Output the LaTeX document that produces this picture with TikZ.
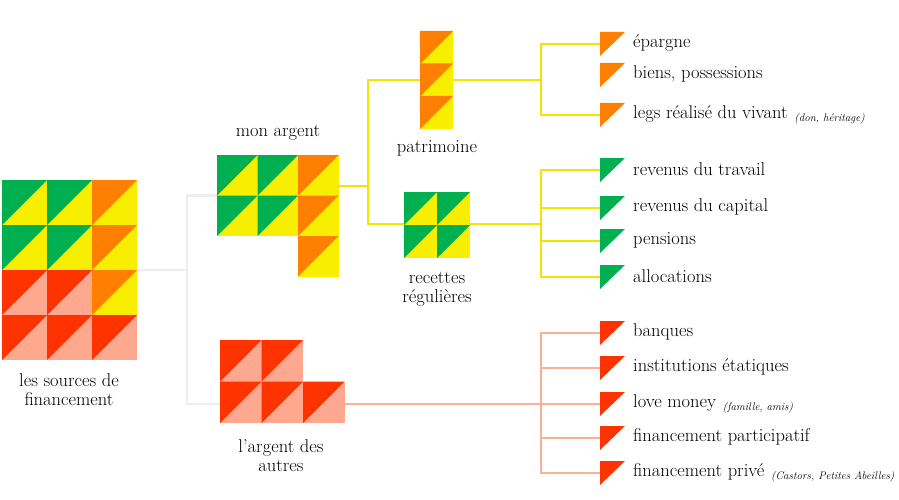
\documentclass[tikz,border=0pt]{standalone}
\usepackage{fontspec}
\usetikzlibrary{positioning}
\definecolor{vert}{HTML}{00B050}
\definecolor{jaune}{HTML}{F7EE00}
\definecolor{orange}{HTML}{FF7F00}
\definecolor{rouge}{HTML}{FF3300}
\definecolor{saumon}{HTML}{FFA890}
\definecolor{gris}{HTML}{EEEEEE}
\definecolor{trjaune}{HTML}{F5E400}
\definecolor{trsaumon}{HTML}{FFAE96}
% one square: dark upper-left half, light lower-right half
\newcommand{\carre}[5]{%
  \fill[#5] (#1,#2) rectangle ++(#3,#3);
  \fill[#4] (#1,#2) -- ++(#3,0) -- ++(-#3,#3) -- cycle;}
\tikzset{
  bloc/.style={inner sep=0pt, draw=none},
  txt/.style={align=center, font=\fontsize{18.5}{19}\selectfont},
  item/.style={anchor=west, font=\fontsize{18.5}{19}\selectfont, inner sep=0pt},
  rem/.style={font=\fontsize{11}{12}\selectfont\itshape},
  trait/.style={line width=2.5pt},
}
\begin{document}
\begin{tikzpicture}[x=1pt,y=-1pt]
			\useasboundingbox (0,0) rectangle (899,500);

			% les sources de financement
			\foreach \i in {0,1} \foreach \j in {0,1} {\carre{2+45*\i}{180+45*\j}{45}{vert}{jaune}}
			\foreach \j in {0,1,2} {\carre{92}{180+45*\j}{45}{orange}{jaune}}
			\foreach \i in {0,1} \foreach \j in {2,3} {\carre{2+45*\i}{180+45*\j}{45}{rouge}{saumon}}
			\carre{92}{315}{45}{rouge}{saumon}
			\node[bloc, minimum width=135pt, minimum height=180pt] (src) at (69.5,270) {};
			\node[txt] (srclab) at (69,390) {les sources de\\financement};

			% mon argent
			\foreach \i in {0,1} \foreach \j in {0,1} {\carre{217+40.5*\i}{155+40.5*\j}{40.5}{vert}{jaune}}
			\foreach \j in {0,1,2} {\carre{298}{155+40.5*\j}{40.5}{orange}{jaune}}
			\node[bloc, minimum width=121pt, minimum height=81pt] (mon) at (277.5,195.5) {};
			\node[txt] (monlab) at (278,133) {mon argent};

			% l'argent des autres
			\foreach \i in {0,1} {\carre{220+41.5*\i}{340}{41.5}{rouge}{saumon}}
			\foreach \i in {0,1,2} {\carre{220+41.5*\i}{381.5}{41.5}{rouge}{saumon}}
			\node[bloc, minimum width=124.5pt, minimum height=41pt] (aut) at (282.25,404) {};
			\node[txt] (autlab) at (281,456) {l'argent des\\autres};

			% patrimoine
			\foreach \j in {0,1,2} {\carre{420}{31+32.5*\j}{33}{orange}{jaune}}
			\node[bloc, minimum width=33pt, minimum height=98pt] (pat) at (436.5,80) {};
			\node[txt] (patlab) at (437,148) {patrimoine};

			% recettes regulieres
			\foreach \i in {0,1} \foreach \j in {0,1} {\carre{404+33*\i}{192+33*\j}{33}{vert}{jaune}}
			\node[bloc, minimum width=66pt, minimum height=64pt] (rec) at (437,224) {};
			\node[txt] (reclab) at (437,289) {recettes\\régulières};

			% connecteurs
			\coordinate (g) at (187,270);
			\draw[trait, gris] (src.east) -- (g) |- (mon.west);
			\draw[trait, gris] (g) |- (aut.west);
			\coordinate (y) at (368,186);
			\draw[trait, trjaune] (mon.east |- y) -- (y) |- (pat.west);
			\draw[trait, trjaune] (y) |- (rec.west);

			% feuilles
			\foreach \n/\yy/\t/\c in {
				e1/44/épargne/orange, e2/75/{biens, possessions}/orange, e3/115/{legs réalisé du vivant}/orange,
				r1/170/revenus du travail/vert, r2/208/revenus du capital/vert, r3/241/pensions/vert, r4/277/allocations/vert,
				a1/333/banques/rouge, a2/368/institutions étatiques/rouge, a3/404/love money/rouge,
				a4/438/financement participatif/rouge, a5/473/financement privé/rouge} {
				\fill[\c] (600,\yy-12) -- (625,\yy-12) -- (600,\yy+12) -- cycle;
				\coordinate (\n) at (600,\yy);
				\node[item] (\n t) at (633,\yy-1) {\t};
			}
			\node[rem, anchor=base west, right=3pt of e3t.base east] {(don, héritage)};
			\node[rem, anchor=base west, right=3pt of a3t.base east] {(famille, amis)};
			\node[rem, anchor=base west, right=3pt of a5t.base east] {(Castors, Petites Abeilles)};

			\draw[trait, trjaune] (pat.east) -- (541,80);
			\draw[trait, trjaune] (e1) -| (541,115) -- (e3);
			\draw[trait, trjaune] (rec.east) -- (541,224);
			\draw[trait, trjaune] (r1) -| (541,277) -- (r4);
			\draw[trait, trjaune] (541,208) -- (r2);
			\draw[trait, trjaune] (541,241) -- (r3);
			\draw[trait, trsaumon] (aut.east) -- (a3);
			\draw[trait, trsaumon] (a1) -| (541,473) -- (a5);
			\draw[trait, trsaumon] (541,368) -- (a2);
			\draw[trait, trsaumon] (541,438) -- (a4);
		\end{tikzpicture}
\end{document}
